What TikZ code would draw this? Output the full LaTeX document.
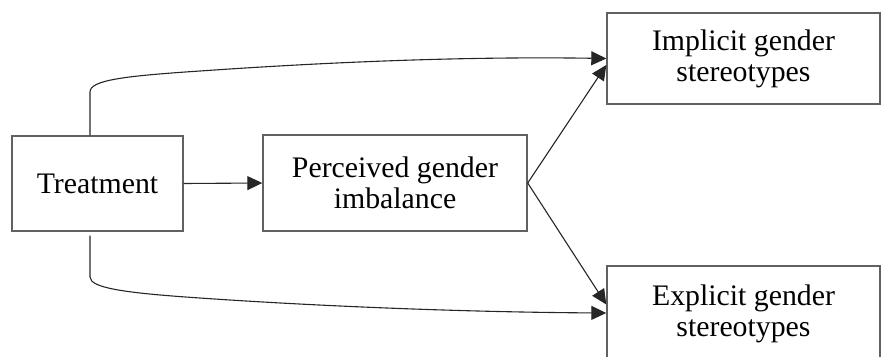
\documentclass[tikz,border=0pt]{standalone}
\usepackage{fontspec}
\setmainfont{Liberation Serif}
\usetikzlibrary{arrows.meta}
\tikzset{
  box/.style={draw=black!62, line width=1.4pt, inner sep=0pt, align=center,
    font=\fontsize{29.8}{31}\selectfont},
  conn/.style={draw=black!85, line width=1.1pt, -{Triangle[length=15pt,width=14pt]}}
}
\begin{document}
\begin{tikzpicture}[x=1pt,y=-1pt]
\useasboundingbox (0,0) rectangle (883,356);
\clip (0,0) rectangle (883,356);
\node[box, minimum width=171pt, minimum height=95pt] (treat) at (97.5,183.5) {Treatment};
\node[box, minimum width=264pt, minimum height=96pt] (perc) at (395,183) {Perceived gender\\imbalance};
\node[box, minimum width=273pt, minimum height=91pt] (impl) at (743.5,58.5) {Implicit gender\\stereotypes};
\node[box, minimum width=273pt, minimum height=96pt] (expl) at (743.5,314) {Explicit gender\\stereotypes};
\coordinate (tt) at ([xshift=-7.5pt]treat.north);
\coordinate (tb) at ([xshift=-7.5pt]treat.south);
\draw[conn] (treat.east) -- (perc.west);
\draw[conn] (tt) -- (90,92) .. controls (90,80) and (125,76) .. (200,71)
  .. controls (300,64) and (450,56) .. (impl.west);
\draw[conn, shorten <=4pt] (tb) -- (90,277) .. controls (90,288) and (125,293) .. (200,298)
  .. controls (300,305) and (450,312) .. ([yshift=1pt]expl.west);
\draw[conn] (perc.east) -- ([yshift=-6.5pt]impl.west);
\draw[conn] (perc.east) -- ([yshift=9.5pt]expl.west);
\end{tikzpicture}
\end{document}
